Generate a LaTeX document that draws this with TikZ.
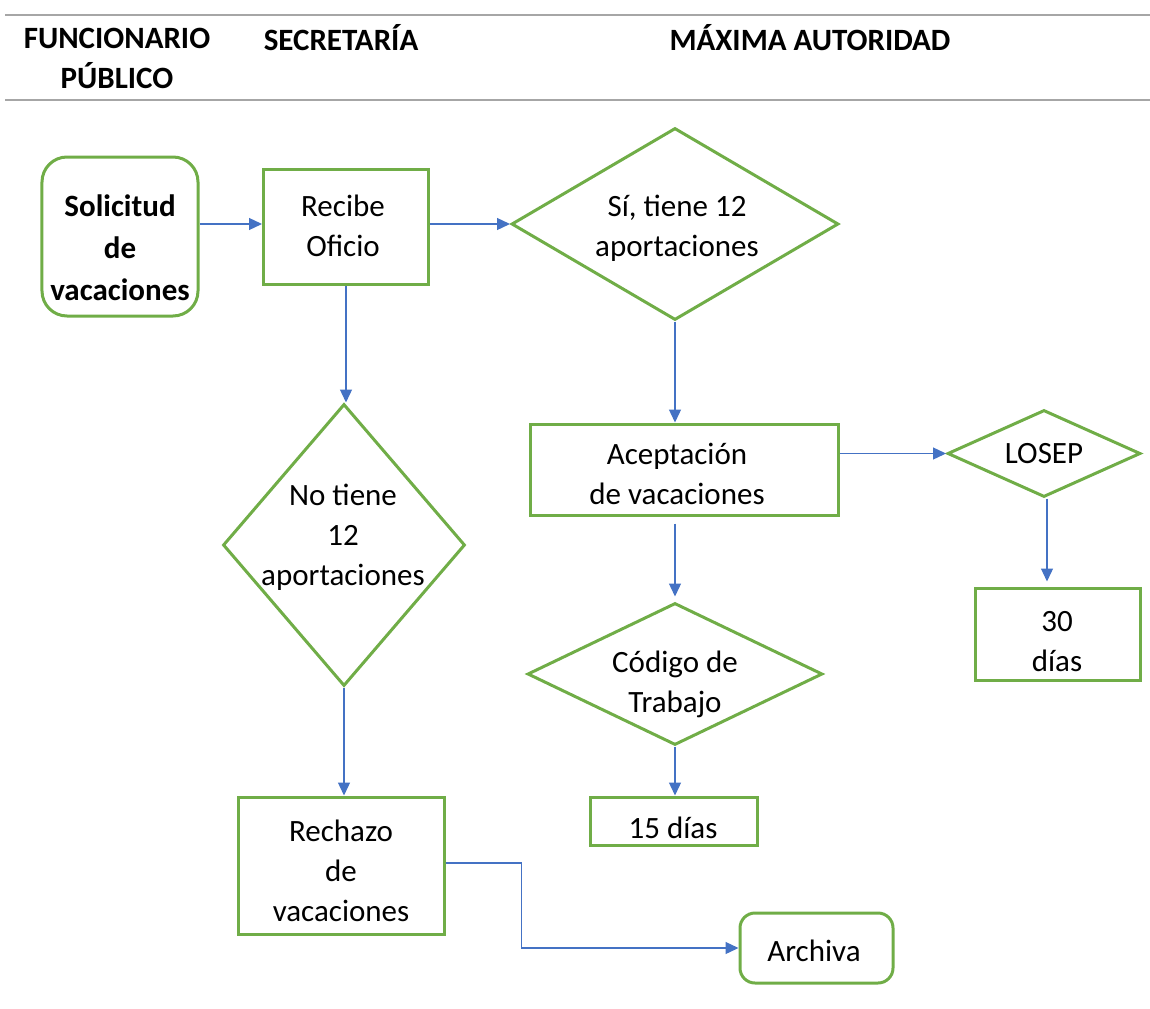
\documentclass[tikz,border=0pt]{standalone}
\usepackage{fontspec}
\setmainfont{Carlito}
\usetikzlibrary{shapes.geometric,arrows.meta}
\definecolor{boxgreen}{HTML}{70AD47}
\definecolor{flowblue}{HTML}{4472C4}
\definecolor{rulegray}{HTML}{A6A6A6}
\tikzset{
  shapebox/.style={draw=boxgreen, line width=3bp, inner sep=0pt},
  rectbox/.style={shapebox, rectangle},
  roundbox/.style={shapebox, rectangle, rounded corners=#1},
  decision/.style={shapebox, diamond},
  label text/.style={inner sep=0pt, align=center, font=\fontsize{31bp}{40bp}\selectfont},
  head text/.style={inner sep=0pt, align=center, font=\bfseries\fontsize{31bp}{40bp}\selectfont},
  flow/.style={draw=flowblue, line width=1.3bp, -{Triangle[length=13bp,width=12bp]}},
  rule/.style={draw=rulegray, line width=1.6bp}
}
\begin{document}
\begin{tikzpicture}[x=1bp,y=-1bp]
\useasboundingbox (0,0) rectangle (1150,1009);

% header band
\coordinate (r1a) at (5,15);   \coordinate (r1b) at (1150,15);
\coordinate (r2a) at (5,100);  \coordinate (r2b) at (1150,100);
\draw[rule] (r1a) -- (r1b);
\draw[rule] (r2a) -- (r2b);
\node[head text] (h1) at (117,58) {FUNCIONARIO\\PÚBLICO};
\node[head text] (h2) at (341,38) {SECRETARÍA};
\node[head text] (h3) at (810,38) {MÁXIMA AUTORIDAD};

% shapes
\node[roundbox=25bp, minimum width=156bp, minimum height=159bp] (sol) at (120,236.5) {};
\node[rectbox, minimum width=165bp, minimum height=115bp] (rec) at (346,226.5) {};
\node[decision, minimum width=327bp, minimum height=192bp] (si) at (675,224) {};
\node[decision, minimum width=242bp, minimum height=282bp] (no) at (344,545) {};
\node[rectbox, minimum width=308bp, minimum height=91bp] (acep) at (684,469.5) {};
\node[decision, minimum width=193bp, minimum height=87bp] (los) at (1044,453.5) {};
\node[rectbox, minimum width=165bp, minimum height=92bp] (d30) at (1057.5,634) {};
\node[decision, minimum width=295bp, minimum height=142bp] (cod) at (675,674) {};
\node[rectbox, minimum width=167bp, minimum height=48bp] (d15) at (673.5,821) {};
\node[rectbox, minimum width=206bp, minimum height=137bp] (rech) at (341,865.5) {};
\node[roundbox=15bp, minimum width=153bp, minimum height=70bp] (arch) at (816.5,948) {};

% texts
\node[head text, font=\bfseries\fontsize{31bp}{42bp}\selectfont] (sol-t) at (120,248) {Solicitud\\de\\vacaciones};
\node[label text] (rec-t) at (343,226) {Recibe\\Oficio};
\node[label text] (si-t) at (677,228) {Sí, tiene 12\\aportaciones};
\node[label text] (no-t) at (343,537) {No tiene\\12\\aportaciones};
\node[label text] (acep-t) at (677,474) {Aceptación\\de vacaciones};
\node[label text] (los-t) at (1044,454) {LOSEP};
\node[label text] (d30-t) at (1057,642) {30\\días};
\node[label text] (cod-t) at (675,684) {Código de\\Trabajo};
\node[label text] (d15-t) at (673,828) {15 días};
\node[label text] (rech-t) at (341,871) {Rechazo\\de\\vacaciones};
\node[label text] (arch-t) at (814,951) {Archiva};

% connectors
\draw[flow] (si.west -| sol.east) -- (si.west -| rec.west);
\draw[flow] (si.west -| rec.east) -- (si.west);
\draw[flow] (rec.south) -- (rec.south |- no.north);
\draw[flow] (si.south) -- (si.south |- acep.north);
\draw[flow] (acep.east |- los.west) -- (los.west);
\draw[flow] ([yshift=-7bp]acep.south -| cod.north) -- ([yshift=5bp]cod.north);
\draw[flow] ([xshift=3bp]los.south) -- ([xshift=3bp,yshift=5bp]los.south |- d30.north);
\draw[flow] (cod.south) -- (cod.south |- d15.north);
\draw[flow] (no.south) -- (no.south |- rech.north);
\draw[flow] ([yshift=2.5bp]rech.east) -- ++(76,0) |- (arch.west);
\end{tikzpicture}
\end{document}
